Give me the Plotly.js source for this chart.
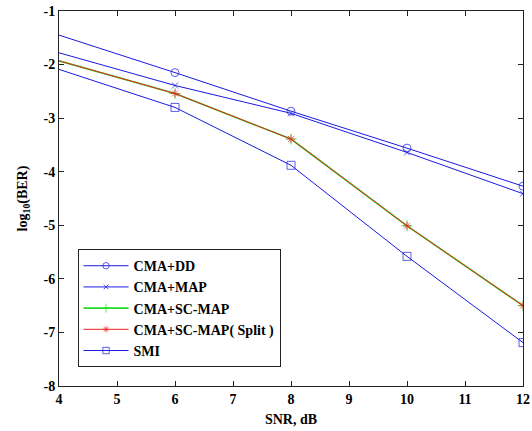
<!DOCTYPE html>
<html><head><meta charset="utf-8">
<script src="https://cdn.plot.ly/plotly-3.0.1.min.js"></script>
<style>html,body{margin:0;padding:0;background:#fff}#chart{width:532px;height:431px}</style>
</head><body><div id="chart"></div>
<script>
const snr = [4, 6, 8, 10, 12];
const cmaDD = [-1.45, -2.15, -2.87, -3.56, -4.27];
const cmaMAP = [-1.78, -2.39, -2.91, -3.64, -4.41];
const cmaSCMAP = [-1.93, -2.54, -3.39, -5.01, -6.50];
const cmaSCMAPSplit = [-1.93, -2.54, -3.39, -5.01, -6.50];
const smi = [-2.09, -2.80, -3.88, -5.58, -7.19];
const names = ['CMA+DD', 'CMA+MAP', 'CMA+SC-MAP', 'CMA+SC-MAP( Split )', 'SMI'];
const xTicks = [4, 5, 6, 7, 8, 9, 10, 11, 12];
const yTicks = [-1, -2, -3, -4, -5, -6, -7, -8];

const blue = '#1a1ae0';
const font = {family: 'Liberation Serif, Times New Roman, serif', size: 14, color: '#000', weight: 'bold'};
function tr(y, name, color, symbol, msize, lw) {
  // no marker drawn at the first point (as in the reference)
  const sizes = y.map((v, i) => i === 0 ? 0 : msize);
  return {x: snr, y: y, name: name, type: 'scatter', mode: 'lines+markers',
    line: {color: color, width: lw || 1},
    marker: {symbol: symbol, size: sizes, color: color, line: {color: color, width: 1}}};
}
const data = [
  tr(cmaDD, names[0], blue, 'circle-open', 8),
  tr(cmaMAP, names[1], blue, 'x-thin-open', 6),
  tr(cmaSCMAP, names[2], '#22dd22', 'cross-thin-open', 8, 1.6),
  tr(cmaSCMAPSplit, names[3], '#ee2222', 'asterisk-open', 7),
  tr(smi, names[4], blue, 'square-open', 8)
];
const axisCommon = {showline: true, linecolor: '#222', linewidth: 1, mirror: 'allticks',
  ticks: 'inside', ticklen: 5, tickcolor: '#222', showgrid: false, zeroline: false,
  tickfont: font};
const layout = {
  width: 532, height: 431,
  margin: {l: 59, r: 9, t: 11, b: 45},
  paper_bgcolor: '#fff', plot_bgcolor: '#fff',
  showlegend: true,
  xaxis: Object.assign({}, axisCommon, {range: [4, 12], tickvals: xTicks, ticktext: xTicks.map(String),
    title: {text: 'SNR, dB', font: font, standoff: 8}}),
  yaxis: Object.assign({}, axisCommon, {range: [-8, -1], tickvals: yTicks, ticktext: yTicks.map(String),
    title: {text: 'log<sub>10</sub>(BER)', font: font, standoff: 12}}),
  legend: {x: 0.04, y: 0.365, xanchor: 'left', yanchor: 'top', bgcolor: '#fff',
    bordercolor: '#222', borderwidth: 1, font: font, itemwidth: 45, tracegroupgap: 0}
};
Plotly.newPlot('chart', data, layout, {displayModeBar: false, staticPlot: true});
</script></body></html>
